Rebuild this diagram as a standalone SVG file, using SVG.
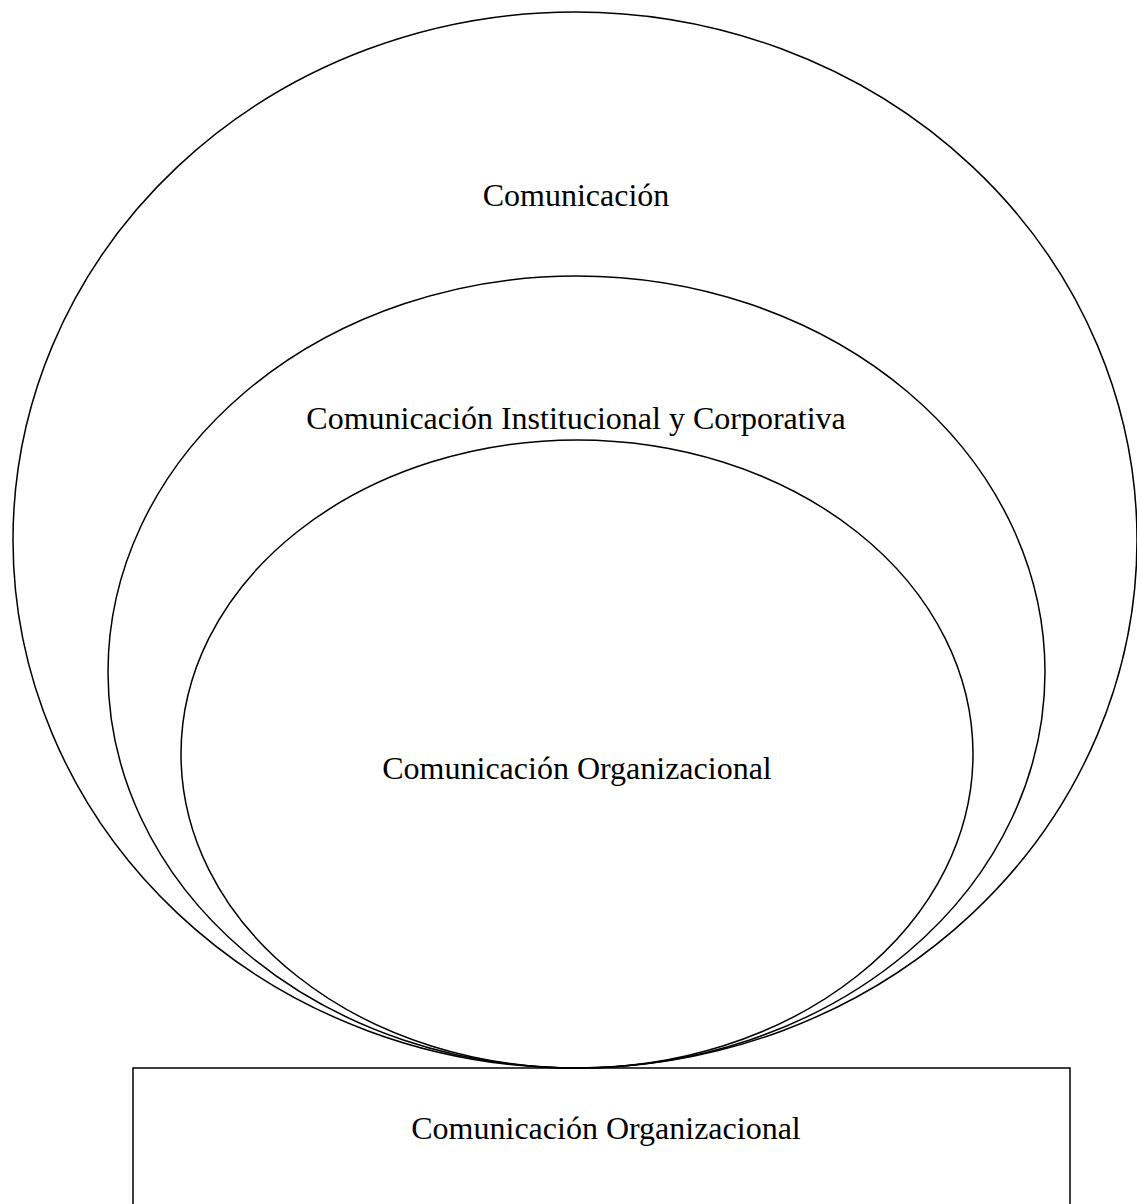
<svg xmlns="http://www.w3.org/2000/svg" width="1137" height="1204" viewBox="0 0 1137 1204">
<style>
.shape{fill:none;stroke:#000;stroke-width:1.5}
.lbl{font-family:"Liberation Serif","Times New Roman",serif;font-size:32px;fill:#000;text-anchor:middle}
</style>
<rect width="1137" height="1204" fill="#fff"/>
<g id="node-comunicacion">
<ellipse class="shape" cx="575" cy="540" rx="562" ry="528"/>
<text class="lbl" x="576" y="206">Comunicación</text>
</g>
<g id="node-institucional">
<ellipse class="shape" cx="576.5" cy="672" rx="468.5" ry="396"/>
<text class="lbl" x="576" y="429">Comunicación Institucional y Corporativa</text>
</g>
<g id="node-organizacional">
<ellipse class="shape" cx="577" cy="754" rx="396" ry="314"/>
<text class="lbl" x="577" y="779">Comunicación Organizacional</text>
</g>
<g id="node-box">
<rect class="shape" x="133" y="1068" width="937" height="150"/>
<text class="lbl" x="606" y="1139">Comunicación Organizacional</text>
</g>
<g id="connectors"></g>
</svg>
